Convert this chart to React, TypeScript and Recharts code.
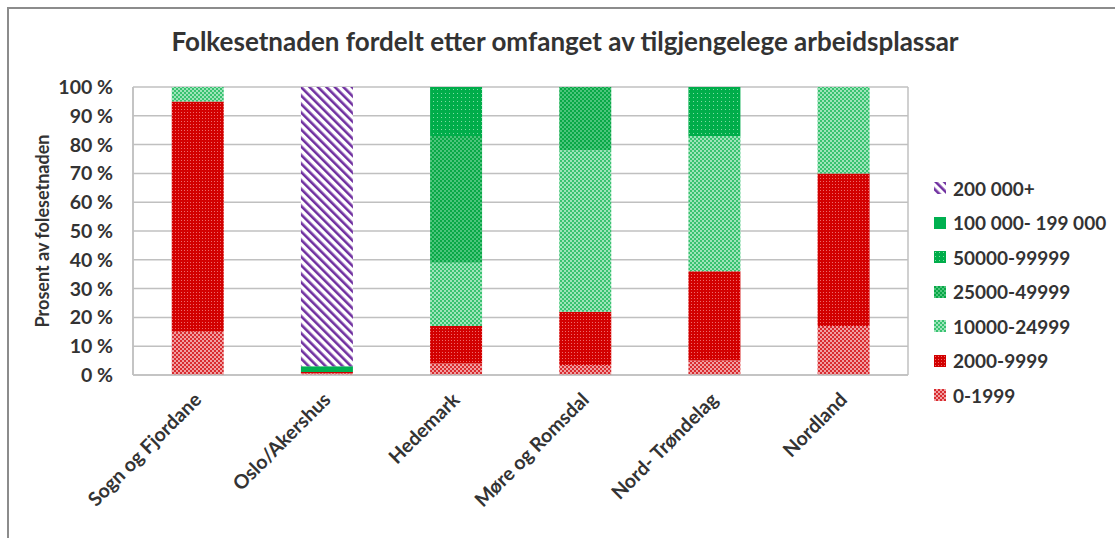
import { BarChart, Bar, XAxis, YAxis, CartesianGrid, Legend } from 'recharts';

const regions = ['Sogn og Fjordane', 'Oslo/Akershus', 'Hedemark', 'Møre og Romsdal', 'Nord- Trøndelag', 'Nordland'];

// share of population (%) per size band, bottom of the stack first
const band0to1999 = [15, 0.5, 4, 3.5, 5, 17];
const band2000to9999 = [80, 0.5, 13, 18.5, 31, 53];
const band10000to24999 = [5, 0, 22, 56, 47, 30];
const band25000to49999 = [0, 0, 44, 22, 0, 0];
const band50000to99999 = [0, 0, 17, 0, 17, 0];
const band100000to199000 = [0, 2, 0, 0, 0, 0];
const band200000plus = [0, 97, 0, 0, 0, 0];

const yTicks = [0, 10, 20, 30, 40, 50, 60, 70, 80, 90, 100];

const series = [
  { key: 'b0', name: '0-1999', values: band0to1999, fill: 'url(#pat0)' },
  { key: 'b1', name: '2000-9999', values: band2000to9999, fill: 'url(#pat1)' },
  { key: 'b2', name: '10000-24999', values: band10000to24999, fill: 'url(#pat2)' },
  { key: 'b3', name: '25000-49999', values: band25000to49999, fill: 'url(#pat3)' },
  { key: 'b4', name: '50000-99999', values: band50000to99999, fill: 'url(#pat4)' },
  { key: 'b5', name: '100 000- 199 000', values: band100000to199000, fill: '#00b050' },
  { key: 'b6', name: '200 000+', values: band200000plus, fill: 'url(#pat6)' },
];

const data = regions.map((name, i) => {
  const row: Record<string, string | number> = { name };
  series.forEach((s) => {
    row[s.key] = s.values[i];
  });
  return row;
});

const font = 'Lato, "Open Sans", sans-serif';
const textColor = '#333333';

const XTick = ({ x, y, payload }: any) => (
  <g transform={`translate(${x + 5},${y + 24})`}>
    <text
      textAnchor="end"
      transform="rotate(-45)"
      fontFamily={font}
      fontWeight={700}
      fontSize={19.5}
      fill={textColor}
    >
      {payload.value}
    </text>
  </g>
);

const LegendBox = () => (
  <div style={{ fontFamily: font, fontWeight: 700, fontSize: 19, color: textColor }}>
    {[...series].reverse().map((s) => (
      <div key={s.key} style={{ display: 'flex', alignItems: 'center', height: 34.5 }}>
        <svg width={12} height={12} style={{ marginRight: 7 }}>
          <rect width={12} height={12} fill={s.fill} />
        </svg>
        <span>{s.name}</span>
      </div>
    ))}
  </div>
);

export default function App() {
  return (
    <div style={{ position: 'absolute', left: 0, top: 0, width: 1115, height: 538, background: '#fff' }}>
      <div
        style={{
          position: 'absolute',
          left: 7,
          top: 7,
          width: 1108,
          height: 531,
          borderLeft: '2px solid #8c8c8c',
          borderTop: '2px solid #8c8c8c',
        }}
      />
      <BarChart
        width={1115}
        height={538}
        data={data}
        barCategoryGap="30%"
        margin={{ top: 87, right: 17, bottom: 133, left: 73 }}
      >
        <defs>
          <pattern id="pat0" width="4" height="4" patternUnits="userSpaceOnUse">
            <rect width="4" height="4" fill="#f0a0a2" />
            <rect width="2" height="2" fill="#d92b2f" />
            <rect x="2" y="2" width="2" height="2" fill="#d92b2f" />
          </pattern>
          <pattern id="pat1" width="3" height="3" patternUnits="userSpaceOnUse">
            <rect width="3" height="3" fill="#d20000" />
            <rect x="1" y="1" width="1" height="1" fill="#ee6a6a" />
          </pattern>
          <pattern id="pat2" width="4" height="4" patternUnits="userSpaceOnUse">
            <rect width="4" height="4" fill="#9ee4ba" />
            <rect width="2" height="2" fill="#38c270" />
            <rect x="2" y="2" width="2" height="2" fill="#38c270" />
          </pattern>
          <pattern id="pat3" width="4" height="4" patternUnits="userSpaceOnUse">
            <rect width="4" height="4" fill="#4cc47c" />
            <rect width="2" height="2" fill="#08a846" />
            <rect x="2" y="2" width="2" height="2" fill="#08a846" />
          </pattern>
          <pattern id="pat4" width="4" height="4" patternUnits="userSpaceOnUse">
            <rect width="4" height="4" fill="#00ad4a" />
            <rect x="1" y="1" width="1" height="1" fill="#7fdca3" />
          </pattern>
          <pattern id="pat6" width="6" height="6" patternUnits="userSpaceOnUse" patternTransform="rotate(-45)">
            <rect width="6" height="6" fill="#ffffff" />
            <rect width="2.6" height="6" fill="#7030a0" />
          </pattern>
        </defs>
        <text
          x={565}
          y={51}
          textAnchor="middle"
          fontFamily={font}
          fontWeight={700}
          fontSize={26}
          fill={textColor}
        >
          Folkesetnaden fordelt etter omfanget av tilgjengelege arbeidsplassar
        </text>
        <text
          x={0}
          y={0}
          transform="translate(49,231) rotate(-90)"
          textAnchor="middle"
          fontFamily={font}
          fontWeight={700}
          fontSize={18}
          fill={textColor}
        >
          Prosent av folesetnaden
        </text>
        <CartesianGrid
          stroke="#c0c0c0"
          strokeWidth={1.5}
          verticalCoordinatesGenerator={({ offset }: any) => [offset.left, offset.left + offset.width]}
        />
        <XAxis
          dataKey="name"
          interval={0}
          tick={<XTick />}
          tickLine={false}
          tickSize={0}
          axisLine={{ stroke: '#c0c0c0', strokeWidth: 1.5 }}
        />
        <YAxis
          width={60}
          domain={[0, 100]}
          ticks={yTicks}
          interval={0}
          tickFormatter={(v: number) => `${v} %`}
          tickLine={false}
          tickSize={0}
          tickMargin={20}
          axisLine={{ stroke: '#c0c0c0', strokeWidth: 1.5 }}
          tick={{ fontFamily: font, fontWeight: 700, fontSize: 19.5, fill: textColor }}
        />
        <Legend
          layout="vertical"
          align="right"
          verticalAlign="top"
          wrapperStyle={{ left: 934, top: 171, width: 190 }}
          content={() => <LegendBox />}
        />
        {series.map((s) => (
          <Bar key={s.key} dataKey={s.key} name={s.name} stackId="a" fill={s.fill} isAnimationActive={false} />
        ))}
      </BarChart>
    </div>
  );
}
